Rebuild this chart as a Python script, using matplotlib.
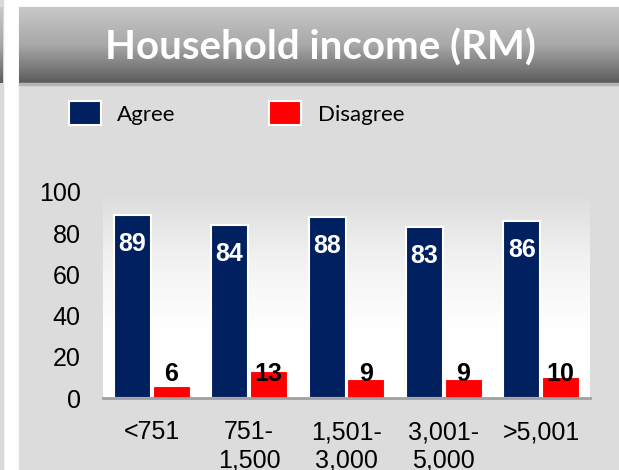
import numpy as np
import matplotlib.pyplot as plt
from matplotlib.patches import Rectangle
from matplotlib.colors import LinearSegmentedColormap

categories = ['<751', '751-\n1,500', '1,501-\n3,000', '3,001-\n5,000', '>5,001']
agree = [89, 84, 88, 83, 86]
disagree = [6, 13, 9, 9, 10]
yticks = [0, 20, 40, 60, 80, 100]
series_names = ['Agree', 'Disagree']

blue = '#002060'
red = '#ff0000'
panel = '#dcdcdc'

W, H = 619, 470
fig = plt.figure(figsize=(W / 100, H / 100), dpi=100)
fig.patch.set_facecolor('white')

# background drawing in pixel coordinates
bg = fig.add_axes([0, 0, 1, 1])
bg.axis('off')
bg.add_patch(Rectangle((0, 0), 3, H, color='#d9d9d9', zorder=1))
bg.add_patch(Rectangle((19, 7), W - 19, H - 7, color=panel, zorder=1))
tcmap = LinearSegmentedColormap.from_list('tbar', ['#c8c8c8', '#a8a8a8', '#5c5c5c'])
grad = np.linspace(0, 1, 100).reshape(-1, 1)
bg.imshow(grad, cmap=tcmap, extent=[19, W, 83, 7], aspect='auto', interpolation='bilinear', zorder=2)
bg.imshow(grad, cmap=tcmap, extent=[0, 3, 83, 7], aspect='auto', interpolation='bilinear', zorder=2)
bg.add_patch(Rectangle((19, 83), W - 19, 2, color='#b4b4b4', zorder=3))
bg.text(320, 60, 'Household income (RM)', color='white', fontsize=29, fontweight='bold',
        family='Lato', ha='center', va='baseline', zorder=4)

# legend
bg.add_patch(Rectangle((69, 101), 32, 24, facecolor=blue, edgecolor='white', lw=1.5, zorder=3))
bg.add_patch(Rectangle((269, 101), 32, 24, facecolor=red, edgecolor='white', lw=1.5, zorder=3))
bg.text(117, 121, series_names[0], fontsize=16, family='Lato', va='baseline', zorder=4)
bg.text(318, 121, series_names[1], fontsize=16, family='Lato', va='baseline', zorder=4)
bg.set_xlim(0, W)
bg.set_ylim(H, 0)

# chart
ax = fig.add_axes([103 / W, (H - 398) / H, 487 / W, 206 / H])
x = np.arange(len(categories))
pcmap = LinearSegmentedColormap.from_list('parea', [panel, '#f2f2f2', 'white', 'white'])
ax.imshow(grad, cmap=pcmap, extent=[-0.5, 4.5, 0, 100], aspect='auto', zorder=0,
          interpolation='bilinear')

bw = 0.38
ax.bar(x - 0.2, agree, bw, color=blue, edgecolor='white', lw=1.5, zorder=2)
ax.bar(x + 0.2, disagree, bw, color=red, edgecolor='white', lw=0.8, zorder=2)

for xi, v in zip(x, agree):
    ax.annotate(str(v), (xi - 0.2, v), xytext=(0, -26), textcoords='offset points',
                ha='center', va='baseline', color='white', fontsize=18, fontweight='bold',
                family='Liberation Sans', zorder=3)
for xi, v in zip(x, disagree):
    ax.text(xi + 0.2, 8.3, str(v), ha='center', va='baseline', color='black',
            fontsize=18, fontweight='bold', family='Liberation Sans', zorder=3)

ax.set_xlim(-0.5, 4.5)
ax.set_ylim(0, 100)
ax.set_yticks(yticks)
ax.set_xticks(x)
ax.set_xticklabels(categories, linespacing=1.25)
ax.tick_params(length=0, labelsize=18, colors='black')
ax.tick_params(axis='y', pad=16)
ax.tick_params(axis='x', pad=16)
for lab in ax.get_xticklabels() + ax.get_yticklabels():
    lab.set_family('Liberation Sans')
for s in ['left', 'right', 'top']:
    ax.spines[s].set_visible(False)
ax.spines['bottom'].set_color('#a0a0a0')
ax.spines['bottom'].set_linewidth(2)
ax.spines['bottom'].set_zorder(4)

fig.savefig('out.png', dpi=100)
